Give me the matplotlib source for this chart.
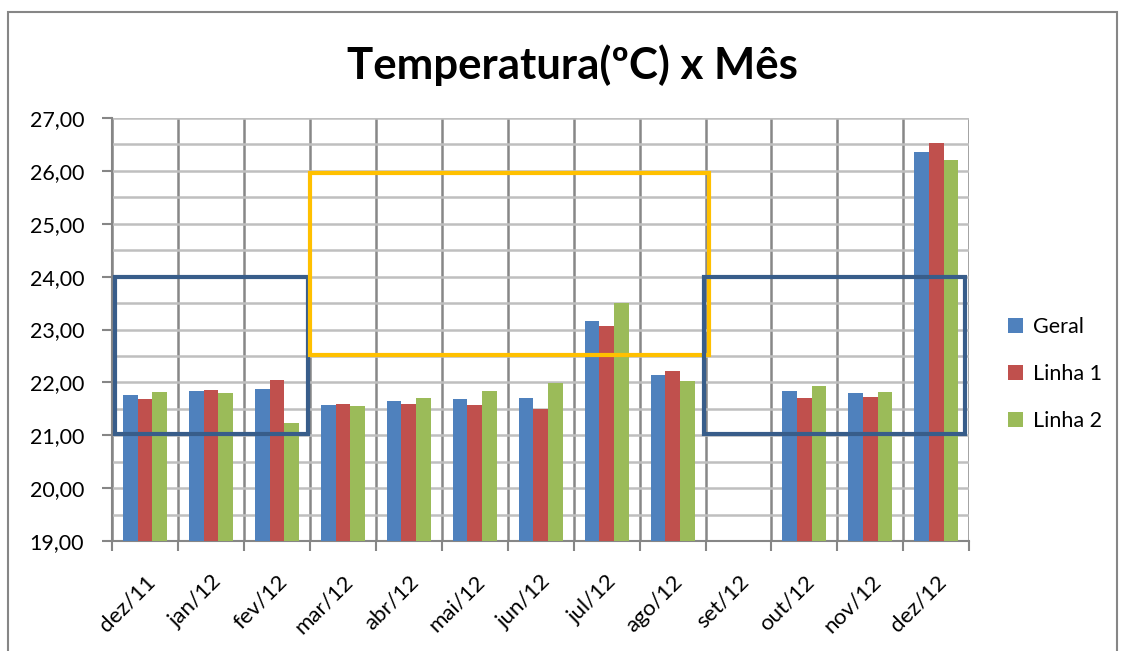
import matplotlib.pyplot as plt
from matplotlib.patches import Rectangle
import numpy as np

plt.rcParams['font.family'] = ['Lato', 'DejaVu Sans']

meses = ['dez/11', 'jan/12', 'fev/12', 'mar/12', 'abr/12', 'mai/12', 'jun/12',
         'jul/12', 'ago/12', 'set/12', 'out/12', 'nov/12', 'dez/12']
geral = [21.76, 21.83, 21.88, 21.57, 21.65, 21.68, 21.71, 23.17, 22.13, 0.0, 21.84, 21.79, 26.36]
linha1 = [21.69, 21.85, 22.04, 21.59, 21.60, 21.57, 21.50, 23.07, 22.21, 0.0, 21.70, 21.73, 26.53]
linha2 = [21.82, 21.79, 21.24, 21.55, 21.70, 21.84, 21.99, 23.50, 22.02, 0.0, 21.93, 21.82, 26.21]
series = [('Geral', geral, '#4F81BD'), ('Linha 1', linha1, '#C0504D'), ('Linha 2', linha2, '#9BBB59')]

# destaques desenhados por cima (x0, x1, y0, y1, cor)
destaques = [(-0.45, 2.47, 21.02, 24.0, '#385D8A'),
             (2.5, 8.55, 22.51, 25.96, '#FFC000'),
             (8.48, 12.43, 21.02, 24.0, '#385D8A')]

fig = plt.figure(figsize=(11.25, 6.51), dpi=100)
ax = fig.add_axes([0.0996, 0.169, 0.762, 0.6497])

x = np.arange(len(meses))
w = 0.222
for i, (nome, vals, cor) in enumerate(series):
    ax.bar(x + (i - 1) * w, vals, w, color=cor, label=nome, zorder=3)

for x0, x1, y0, y1, cor in destaques:
    ax.add_patch(Rectangle((x0, y0), x1 - x0, y1 - y0, fill=False,
                           edgecolor=cor, linewidth=3, zorder=5, clip_on=False))

yt = np.arange(19, 27.5, 1)
ax.set_ylim(19, 27)
ax.set_xlim(-0.5, len(meses) - 0.5)
ax.set_yticks(yt)
ax.set_yticklabels([('%.2f' % v).replace('.', ',') for v in yt], fontsize=15.5)
ax.set_yticks(np.arange(19.5, 27, 1), minor=True)
ax.tick_params(axis='y', which='minor', length=0)
ax.tick_params(axis='y', which='major', length=7, color='#868686', width=1.5, pad=13)
ax.yaxis.grid(True, which='both', color='#BFBFBF', linewidth=1.8, zorder=0)

# linhas verticais nas fronteiras das categorias
for b in np.arange(-0.5, len(meses), 1):
    ax.axvline(b, color='#878787', linewidth=1.8, zorder=1)
ax.set_xticks(np.arange(-0.5, len(meses), 1), minor=True)
ax.tick_params(axis='x', which='minor', length=7, color='#868686', width=1.5)
ax.set_xticks(x)
ax.set_xticklabels(meses, rotation=45, ha='right', rotation_mode='anchor', fontsize=16)
ax.tick_params(axis='x', which='major', length=0, pad=22)

for s in ['top', 'right']:
    ax.spines[s].set_visible(False)
for s in ['left', 'bottom']:
    ax.spines[s].set_color('#868686')
    ax.spines[s].set_linewidth(1.5)

fig.text(0.509, 0.9, 'Temperatura(ºC) x Mês', ha='center', va='center',
         fontsize=31.5, fontweight='bold')

leg = ax.legend(loc='center left', bbox_to_anchor=(1.022, 0.395), frameon=False,
                fontsize=15.5, handlelength=0.7, handleheight=0.7, labelspacing=1.25,
                handletextpad=0.5)

fig.patches.append(Rectangle((8 / 1125, -0.01), 1109 / 1125, 1 - 12 / 651 + 0.01,
                             transform=fig.transFigure, fill=False,
                             edgecolor='#868686', linewidth=1.5))

fig.savefig('out.png', dpi=100)
